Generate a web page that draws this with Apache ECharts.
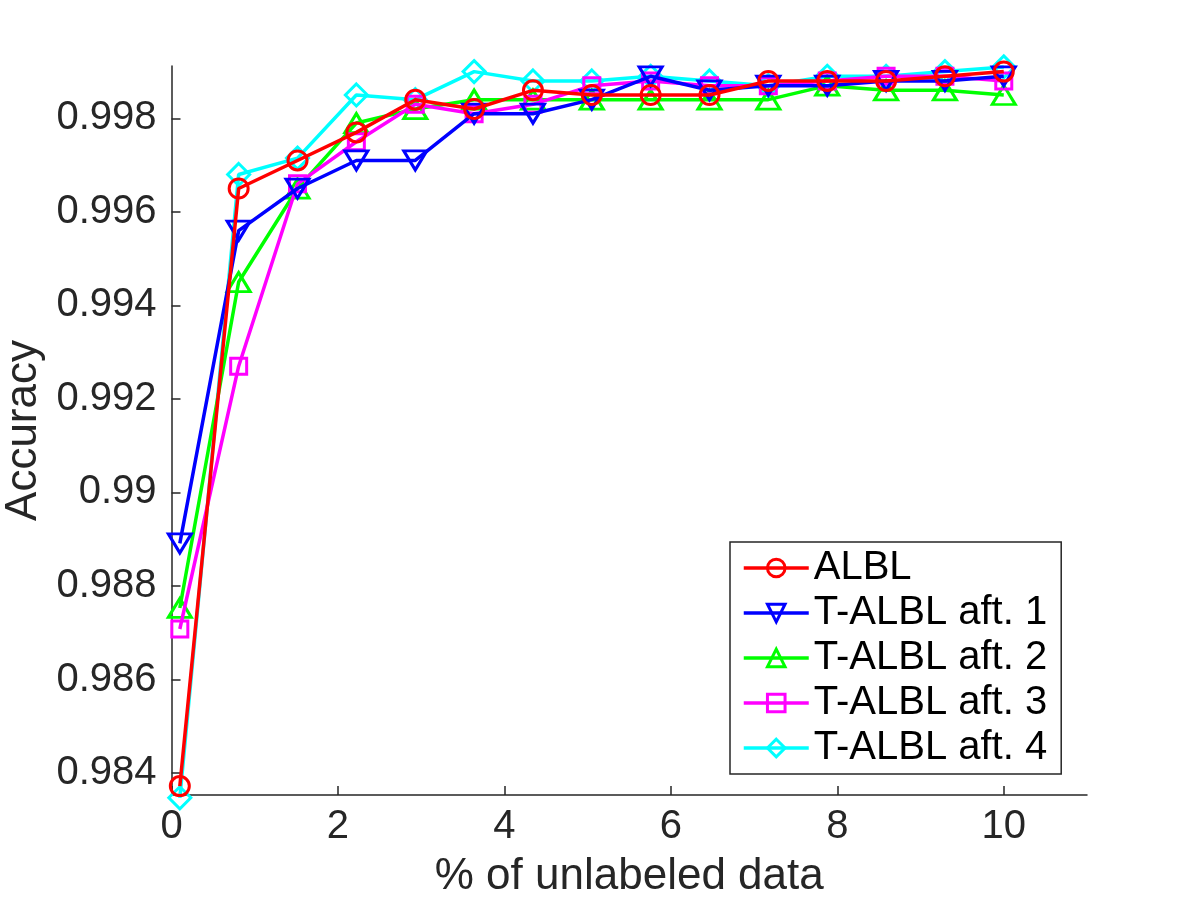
<!DOCTYPE html>
<html>
<head>
<meta charset="utf-8">
<script src="https://cdn.jsdelivr.net/npm/echarts@6/dist/echarts.min.js"></script>
<style>
html,body{margin:0;padding:0;background:#fff;}
#chart{width:1200px;height:900px;}
</style>
</head>
<body>
<div id="chart"></div>
<script>
const xValues = [0.1, 0.807, 1.514, 2.221, 2.929, 3.636, 4.343, 5.05, 5.757, 6.464, 7.171, 7.879, 8.586, 9.293, 10.0];
const albl  = [0.98372, 0.9965, 0.9971, 0.9977, 0.9984, 0.9982, 0.9986, 0.9985, 0.9985, 0.9985, 0.9988, 0.9988, 0.9988, 0.9989, 0.9990];
const aft1  = [0.98891, 0.9956, 0.9965, 0.9971, 0.9971, 0.9981, 0.9981, 0.9984, 0.9989, 0.9986, 0.9987, 0.9987, 0.9988, 0.9988, 0.9989];
const aft2  = [0.98753, 0.9945, 0.9965, 0.9979, 0.9982, 0.9984, 0.9984, 0.9984, 0.9984, 0.9984, 0.9984, 0.9987, 0.9986, 0.9986, 0.9985];
const aft3  = [0.98708, 0.9927, 0.9966, 0.9975, 0.9983, 0.9981, 0.9983, 0.9987, 0.9988, 0.9987, 0.9987, 0.9988, 0.9989, 0.9989, 0.9988];
const aft4  = [0.98347, 0.9968, 0.99715, 0.9985, 0.9984, 0.9990, 0.9988, 0.9988, 0.9989, 0.9988, 0.9987, 0.9989, 0.9989, 0.9990, 0.9991];
const seriesNames = ['ALBL', 'T-ALBL aft. 1', 'T-ALBL aft. 2', 'T-ALBL aft. 3', 'T-ALBL aft. 4'];
const xTicks = [0, 2, 4, 6, 8, 10];
const yTicks = [0.984, 0.986, 0.988, 0.99, 0.992, 0.994, 0.996, 0.998];

const FONT = 'Liberation Sans';
const AX = '#262626';

function mk(name, vals, color, symbol, size, rotate, z) {
  return {
    name: name,
    type: 'line',
    data: xValues.map((x, i) => [x, vals[i]]),
    symbol: symbol,
    symbolSize: size,
    symbolRotate: rotate,
    showAllSymbol: true,
    clip: false,
    z: z,
    lineStyle: { color: color, width: 3.5 },
    itemStyle: { color: 'rgba(255,255,255,0)', borderColor: color, borderWidth: 3 },
    emphasis: { disabled: true }
  };
}

const chart = echarts.init(document.getElementById('chart'), null, { renderer: 'canvas' });
chart.setOption({
  animation: false,
  backgroundColor: '#fff',
  grid: { left: 171.5, right: 113, top: 66, bottom: 105, containLabel: false, outerBoundsMode: 'none' },
  legend: {
    orient: 'vertical',
    left: 730,
    top: 542,
    data: seriesNames,
    backgroundColor: '#fff',
    borderColor: AX,
    borderWidth: 1.5,
    borderRadius: 0,
    padding: [4, 14, 4, 12],
    itemWidth: 65,
    itemHeight: 22,
    itemGap: 1,
    lineStyle: { width: 3.5 },
    itemStyle: { borderWidth: 3 },
    textStyle: { fontFamily: FONT, fontSize: 40, color: '#000', lineHeight: 44 }
  },
  xAxis: {
    type: 'value',
    min: 0,
    max: 11,
    name: '% of unlabeled data',
    nameLocation: 'middle',
    nameGap: 60,
    nameTextStyle: { fontFamily: FONT, fontSize: 44, color: AX },
    axisLine: { show: true, lineStyle: { color: AX, width: 1.5 } },
    axisTick: { show: true, inside: true, length: 9, customValues: xTicks, lineStyle: { color: AX, width: 1.5 } },
    axisLabel: { customValues: xTicks, margin: 12, fontFamily: FONT, fontSize: 40, color: AX },
    splitLine: { show: false }
  },
  yAxis: {
    type: 'value',
    min: 0.98353,
    max: 0.99912,
    name: 'Accuracy',
    nameLocation: 'middle',
    nameGap: 124,
    nameTextStyle: { fontFamily: FONT, fontSize: 44, color: AX },
    axisLine: { show: true, lineStyle: { color: AX, width: 1.5 } },
    axisTick: { show: true, inside: true, length: 9, customValues: yTicks, lineStyle: { color: AX, width: 1.5 } },
    axisLabel: {
      customValues: yTicks, margin: 15, fontFamily: FONT, fontSize: 40, color: AX,
      formatter: v => String(+(+v).toFixed(3))
    },
    splitLine: { show: false }
  },
  series: [
    mk(seriesNames[0], albl, '#ff0000', 'circle', 19, 0, 10),
    mk(seriesNames[1], aft1, '#0000ff', 'triangle', [23, 19], 180, 9),
    mk(seriesNames[2], aft2, '#00ff00', 'triangle', [23, 19], 0, 6),
    mk(seriesNames[3], aft3, '#ff00ff', 'rect', 16, 0, 7),
    mk(seriesNames[4], aft4, '#00ffff', 'diamond', 22, 0, 5)
  ]
});
</script>
</body>
</html>
